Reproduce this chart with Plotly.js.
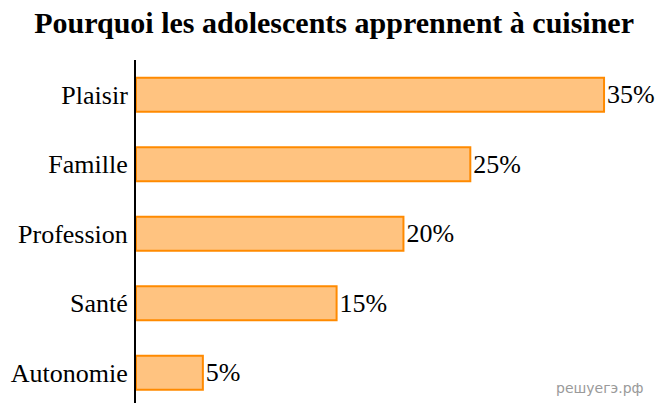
<!DOCTYPE html>
<html><head><meta charset="utf-8">
<script src="https://cdn.plot.ly/plotly-3.0.1.min.js"></script>
<style>html,body{margin:0;padding:0;background:#fff}#chart{width:659px;height:403px}</style>
</head><body><div id="chart"></div>
<script>
const categories = ["Plaisir", "Famille", "Profession", "Santé", "Autonomie"];
const values = [35, 25, 20, 15, 5];
const valueLabels = ["35%", "25%", "20%", "15%", "5%"];

const SERIF = '"Liberation Serif", "Times New Roman", Times, serif';

const trace = {
  type: 'bar',
  orientation: 'h',
  y: categories,
  x: values,
  text: valueLabels,
  textposition: 'outside',
  cliponaxis: false,
  textfont: {family: SERIF, size: 26, color: '#000'},
  marker: {color: '#FFC380', line: {color: '#FF8A00', width: 2}},
  width: 0.49,
  hoverinfo: 'none'
};

const layout = {
  width: 659, height: 403,
  margin: {l: 136, r: 0, t: 60, b: 0},
  paper_bgcolor: '#fff', plot_bgcolor: '#fff',
  showlegend: false,
  font: {family: SERIF},
  title: {text: '<b>Pourquoi les adolescents apprennent à cuisiner</b>',
    font: {family: SERIF, size: 30, color: '#000'},
    x: 0.507, xanchor: 'center', y: 0.943, yanchor: 'middle'},
  xaxis: {range: [0, 39.11], showgrid: false, zeroline: false, showline: false,
    showticklabels: false, ticks: ''},
  yaxis: {type: 'category', range: [4.435, -0.5], showgrid: false, zeroline: false,
    showline: true, linecolor: '#000', linewidth: 2, ticks: '', ticklabelstandoff: 1,
    tickfont: {family: SERIF, size: 26, color: '#000'}},
  annotations: [{text: 'решуегэ.рф', xref: 'paper', yref: 'paper', x: 0.975, y: 0.045,
    xanchor: 'right', yanchor: 'middle', showarrow: false,
    font: {family: 'DejaVu Sans, sans-serif', size: 14, color: '#9a9a9a'}}]
};

Plotly.newPlot('chart', [trace], layout, {displayModeBar: false, staticPlot: true});
</script></body></html>
